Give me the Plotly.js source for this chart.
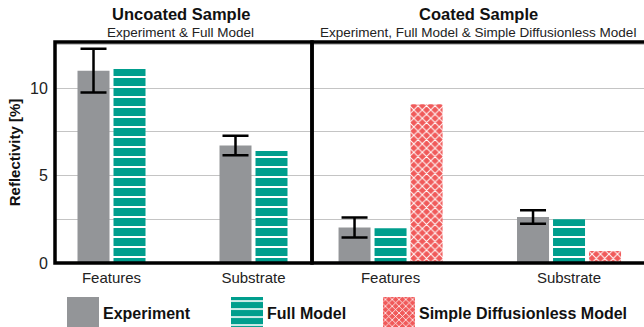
<!DOCTYPE html>
<html>
<head>
<meta charset="utf-8">
<script src="https://cdn.plot.ly/plotly-3.0.1.min.js"></script>
<style>html,body{margin:0;padding:0;background:#fff;}#chart{width:644px;height:327px;}</style>
</head>
<body>
<div id="chart"></div>
<script>
// ---- data ----
const categories = ['Features', 'Substrate'];
const uncoatedExperiment = [11.0, 6.72];
const uncoatedExperimentErr = [1.25, 0.56];
const uncoatedFullModel = [11.1, 6.41];
const coatedExperiment = [2.03, 2.63];
const coatedExperimentErr = [0.57, 0.38];
const coatedFullModel = [1.99, 2.5];
const coatedSimpleModel = [9.08, 0.69];
const seriesNames = ['Experiment', 'Full Model', 'Simple Diffusionless Model'];
const panelTitles = ['Uncoated Sample', 'Coated Sample'];
const panelSubtitles = ['Experiment &amp; Full Model', 'Experiment, Full Model &amp; Simple Diffusionless Model'];

// ---- styles ----
const FONT = 'Liberation Sans, Arial, Helvetica, sans-serif';
const GRAY = '#939598';
const TEAL = '#009E8D';
const RED = '#F05A5A';
const errStyle = arr => ({type: 'data', array: arr, visible: true, color: '#000', thickness: 2.5, width: 13});

// bar geometry in category units (left: 142px/category, right: 178.5px/category)
const wL = 32 / 142, wR = 32 / 178.5;
const tealMarker = {color: TEAL, line: {width: 0}, pattern: {shape: '-', fgcolor: '#ffffff', bgcolor: TEAL, size: 10, solidity: 0.2}};
const redMarker = {color: RED, line: {width: 0}, pattern: {shape: 'x', fgcolor: '#ffffff', bgcolor: RED, size: 6, solidity: 0.3}};

const traces = [
  {type: 'bar', name: seriesNames[0], legend: 'legend', x: categories, y: uncoatedExperiment,
   error_y: errStyle(uncoatedExperimentErr), width: wL, offset: -34 / 142,
   marker: {color: GRAY, line: {width: 0}}, xaxis: 'x', yaxis: 'y'},
  {type: 'bar', name: seriesNames[1], legend: 'legend2', x: categories, y: uncoatedFullModel,
   width: wL, offset: 2 / 142, marker: tealMarker, xaxis: 'x', yaxis: 'y'},
  {type: 'bar', name: seriesNames[0], showlegend: false, x: categories, y: coatedExperiment,
   error_y: errStyle(coatedExperimentErr), width: wR, offset: -52 / 178.5,
   marker: {color: GRAY, line: {width: 0}}, xaxis: 'x2', yaxis: 'y2'},
  {type: 'bar', name: seriesNames[1], showlegend: false, x: categories, y: coatedFullModel,
   width: wR, offset: -16 / 178.5, marker: tealMarker, xaxis: 'x2', yaxis: 'y2'},
  {type: 'bar', name: seriesNames[2], legend: 'legend3', x: categories, y: coatedSimpleModel,
   width: wR, offset: 20 / 178.5, marker: redMarker, xaxis: 'x2', yaxis: 'y2'}
];

const split = (312 - 55) / 589;
const yBase = {
  range: [0, 12.64], dtick: 5, tick0: 0, showgrid: true, gridcolor: '#c4c4c4', gridwidth: 1,
  minor: {dtick: 2.5, showgrid: true, gridcolor: '#c4c4c4', gridwidth: 1},
  zeroline: false, showline: false, fixedrange: true
};
const xBase = {type: 'category', showgrid: false, zeroline: false, showline: false,
  ticks: 'outside', ticklen: 1, tickcolor: 'rgba(0,0,0,0)',
  tickfont: {family: FONT, size: 15, color: '#222'}};

const legendBase = {orientation: 'h', xanchor: 'left', y: -0.15, yanchor: 'top',
  font: {family: FONT, size: 16, color: '#111', weight: 'bold'}, itemwidth: 30,
  bgcolor: 'rgba(0,0,0,0)'};

const layout = {
  width: 644, height: 327,
  margin: {l: 55, r: 0, t: 42, b: 64, autoexpand: false},
  paper_bgcolor: '#fff', plot_bgcolor: '#fff',
  font: {family: FONT, color: '#222'},
  barmode: 'overlay',
  showlegend: true,
  legend: Object.assign({}, legendBase, {x: (67 - 55 - 4) / 589}),
  legend2: Object.assign({}, legendBase, {x: (231 - 55 - 4) / 589}),
  legend3: Object.assign({}, legendBase, {x: (383 - 55 - 4) / 589}),
  xaxis: Object.assign({}, xBase, {domain: [0, split], range: [-0.398, 1.412], anchor: 'y'}),
  xaxis2: Object.assign({}, xBase, {domain: [split, 1], range: [-0.44, 1.42], anchor: 'y2'}),
  yaxis: Object.assign({}, yBase, {anchor: 'x', ticks: 'outside', ticklen: 3, tickcolor: 'rgba(0,0,0,0)',
    tickfont: {family: FONT, size: 16, color: '#222'},
    title: {text: 'Reflectivity [%]', font: {family: FONT, size: 15, color: '#111', weight: 'bold'}, standoff: 5}}),
  yaxis2: Object.assign({}, yBase, {anchor: 'x2', matches: 'y', showticklabels: false}),
  shapes: [
    {type: 'rect', xref: 'x domain', yref: 'y domain', x0: 0, x1: 1, y0: 0, y1: 1,
     line: {color: '#000', width: 3.5}, layer: 'above'},
    {type: 'rect', xref: 'x2 domain', yref: 'y2 domain', x0: 0, x1: 1.03, y0: 0, y1: 1,
     line: {color: '#000', width: 3.5}, layer: 'above'}
  ],
  annotations: [
    {xref: 'x domain', yref: 'paper', x: 0.5, xshift: -3, y: 1, yshift: 17, yanchor: 'bottom', showarrow: false,
     text: '<b>' + panelTitles[0] + '</b>', font: {family: FONT, size: 16.5, color: '#111'}},
    {xref: 'x domain', yref: 'paper', x: 0.5, xshift: -3, y: 1, yshift: 0, yanchor: 'bottom', showarrow: false,
     text: panelSubtitles[0], font: {family: FONT, size: 13.5, color: '#222'}},
    {xref: 'x2 domain', yref: 'paper', x: 0.5, y: 1, yshift: 17, yanchor: 'bottom', showarrow: false,
     text: '<b>' + panelTitles[1] + '</b>', font: {family: FONT, size: 16.5, color: '#111'}},
    {xref: 'x2 domain', yref: 'paper', x: 0.5, y: 1, yshift: 0, yanchor: 'bottom', showarrow: false,
     text: panelSubtitles[1], font: {family: FONT, size: 13.5, color: '#222'}}
  ]
};

function enlargeKeys(gd) {
  gd.querySelectorAll('g.legendpoints path').forEach(function (p) {
    p.setAttribute('d', 'M16,16H-16V-16H16Z');
  });
}
Plotly.newPlot('chart', traces, layout, {staticPlot: true, displayModeBar: false}).then(function (gd) {
  enlargeKeys(gd);
  setTimeout(function () { enlargeKeys(gd); }, 50);
});
</script>
</body>
</html>
